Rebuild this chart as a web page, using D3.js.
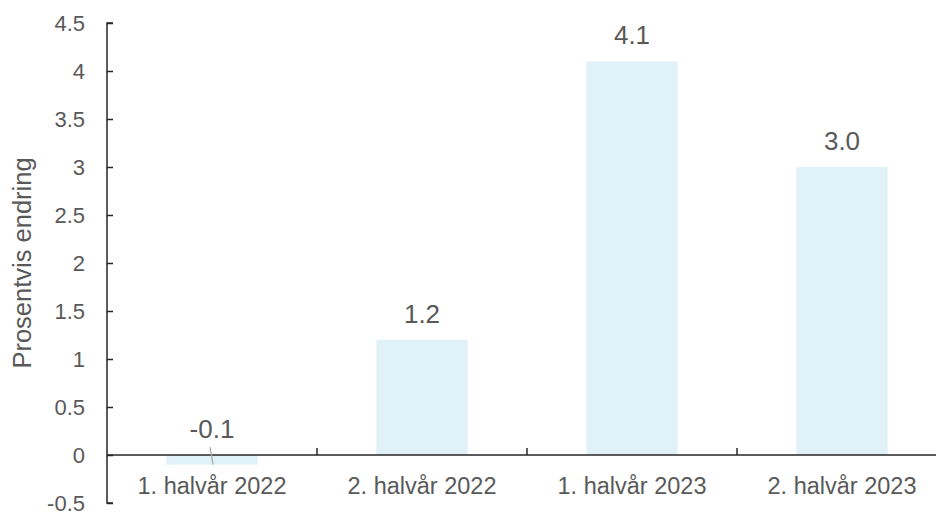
<!DOCTYPE html>
<html>
<head>
<meta charset="utf-8">
<script src="https://cdn.jsdelivr.net/npm/d3@7"></script>
<style>
    body { margin: 0; background: #fff; }
    #chart text { font-family: "Liberation Sans", Arial, sans-serif; fill: #595959; }
</style>
</head>
<body>
<svg id="chart" width="936" height="513"></svg>
<script>
    const categories = ["1. halvår 2022", "2. halvår 2022", "1. halvår 2023", "2. halvår 2023"];
    const values = [-0.1, 1.2, 4.1, 3.0];
    const yTicks = [-0.5, 0, 0.5, 1, 1.5, 2, 2.5, 3, 3.5, 4, 4.5];

    const svg = d3.select("#chart");
    const plotLeft = 107, plotRight = 947, plotTop = 23, plotBottom = 503;

    let y = d3.scaleLinear().domain([-0.5, 4.5]).range([plotBottom, plotTop]);
    let x = d3.scaleBand().domain(categories).range([plotLeft, plotRight]).padding(0);
    let barW = x.bandwidth() * 0.435;

    // bars
    svg.append("g").selectAll("rect")
        .data(values)
        .join("rect")
        .attr("x", (d, i) => x(categories[i]) + x.bandwidth() / 2 - barW / 2)
        .attr("y", d => y(Math.max(0, d)))
        .attr("width", barW)
        .attr("height", d => Math.abs(y(d) - y(0)))
        .attr("fill", "#e0f2f7");

    // y axis
    let yAxis = d3.axisRight(y).tickValues(yTicks).tickSize(6).tickFormat("");
    let gy = svg.append("g").attr("transform", `translate(${plotLeft},0)`).call(yAxis);
    gy.select(".domain").attr("stroke", "#262626").attr("stroke-width", 1.5)
        .attr("d", `M6,${plotTop}H0V${plotBottom}H6`);
    gy.selectAll(".tick line").attr("stroke", "#262626").attr("stroke-width", 1.5);

    svg.append("g").selectAll("text")
        .data(yTicks)
        .join("text")
        .attr("x", 85)
        .attr("y", d => y(d))
        .attr("dy", "0.36em")
        .attr("text-anchor", "end")
        .style("font-size", "22px")
        .text(d => d);

    // x axis at zero
    svg.append("line")
        .attr("x1", plotLeft).attr("x2", 936)
        .attr("y1", y(0)).attr("y2", y(0))
        .attr("stroke", "#262626").attr("stroke-width", 1.5);
    svg.append("g").selectAll("line")
        .data(categories.slice(1))
        .join("line")
        .attr("x1", d => x(d)).attr("x2", d => x(d))
        .attr("y1", y(0)).attr("y2", y(0) - 7)
        .attr("stroke", "#262626").attr("stroke-width", 1.5);

    svg.append("g").selectAll("text")
        .data(categories)
        .join("text")
        .attr("x", d => x(d) + x.bandwidth() / 2)
        .attr("y", 494)
        .attr("text-anchor", "middle")
        .style("font-size", "23.5px")
        .text(d => d);

    // data labels
    svg.append("g").selectAll("text")
        .data(values)
        .join("text")
        .attr("x", (d, i) => x(categories[i]) + x.bandwidth() / 2)
        .attr("y", d => d < 0 ? y(0) - 17 : y(d) - 17)
        .attr("text-anchor", "middle")
        .style("font-size", "26px")
        .text(d => d.toFixed(1));

    // leader line for negative label
    values.forEach((d, i) => {
        if (d < 0) {
            let cx = x(categories[i]) + x.bandwidth() / 2;
            svg.append("line")
                .attr("x1", cx - 2).attr("y1", y(0) - 8)
                .attr("x2", cx + 1).attr("y2", y(d))
                .attr("stroke", "#a6a6a6").attr("stroke-width", 1.2);
        }
    });

    // axis title
    svg.append("text")
        .attr("transform", `translate(31,${(plotTop + plotBottom) / 2}) rotate(-90)`)
        .attr("text-anchor", "middle")
        .style("font-size", "25.5px")
        .text("Prosentvis endring");
</script>
</body>
</html>
